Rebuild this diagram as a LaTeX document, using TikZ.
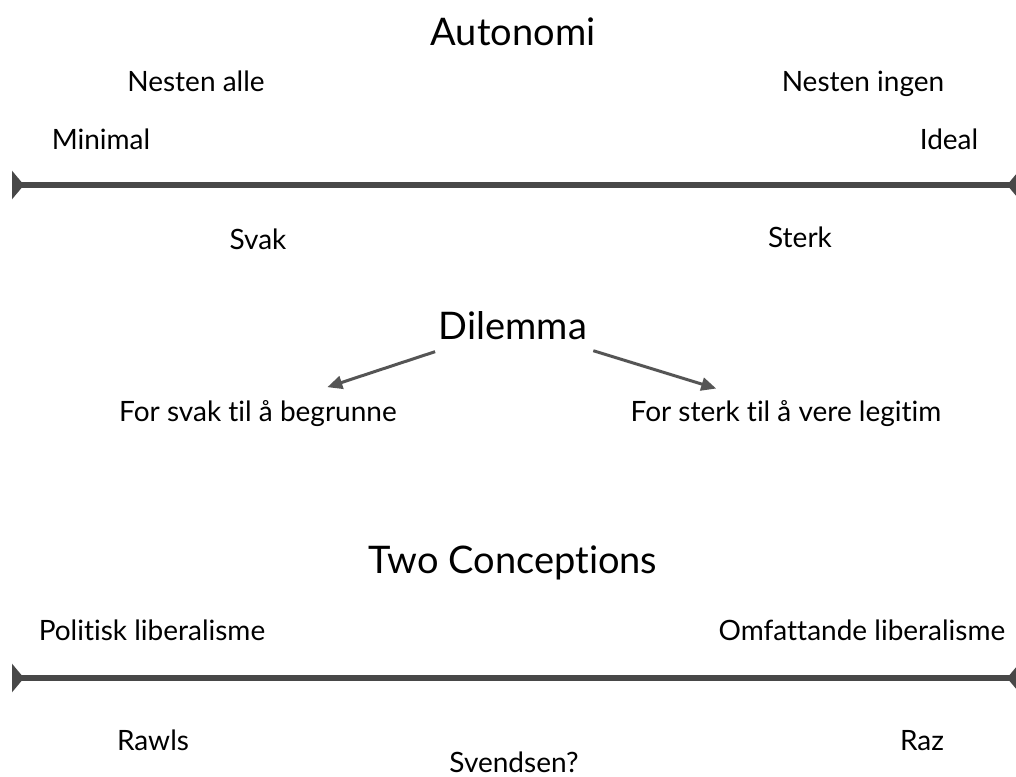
\documentclass[tikz,border=0pt]{standalone}
\usepackage{fontspec}
\setmainfont{Lato}[Ligatures=NoCommon]
\usetikzlibrary{arrows.meta}
\definecolor{linegray}{HTML}{484848}
\definecolor{arrgray}{HTML}{555555}
\tikzset{
  x=1pt,y=-1pt,
  title/.style={inner sep=0pt,font=\fontsize{38}{42}\selectfont},
  label/.style={inner sep=0pt,anchor=base,font=\fontsize{28}{32}\selectfont},
  scale line/.style={draw=linegray,line width=6pt,
    {Triangle[reversed,length=12pt,width=28pt]}-{Triangle[reversed,length=12pt,width=28pt]}},
  dilarrow/.style={draw=arrgray,line width=3pt,-{Triangle[length=15pt,width=13pt]}},
}
\begin{document}
\begin{tikzpicture}
\useasboundingbox (0,0) rectangle (1016,776);
\node[title] (autonomi) at (513,32) {Autonomi};
\node[label] (nalle) at (196,91) {Nesten alle};
\node[label] (ningen) at (863,91) {Nesten ingen};
\node[label] (minimal) at (101,149) {Minimal};
\node[label] (ideal) at (949,149) {Ideal};
\coordinate (l1a) at (12,185);
\coordinate (l1b) at (1019,185);
\draw[scale line] (l1a) -- (l1b);
\node[label] (svak) at (258,249) {Svak};
\node[label] (sterk) at (800,247) {Sterk};
\node[title] (dilemma) at (513,326) {Dilemma};
\node[label] (forsvak) at (258,421) {For svak til å begrunne};
\node[label] (forsterk) at (786,421) {For sterk til å vere legitim};
\draw[dilarrow,shorten <=82pt,shorten >=73pt] (dilemma.center) -- ([yshift=11pt]forsvak.base);
\draw[dilarrow,shorten <=84pt,shorten >=73pt] (dilemma.center) -- ([yshift=11pt]forsterk.base);
\node[title] (two) at (513,563) {Two Conceptions};
\node[label] (politisk) at (152,640) {Politisk liberalisme};
\node[label] (omfatt) at (862,640) {Omfattande liberalisme};
\coordinate (l2a) at (12,678);
\coordinate (l2b) at (1019,678);
\draw[scale line] (l2a) -- (l2b);
\node[label] (rawls) at (153,750) {Rawls};
\node[label] (raz) at (922,750) {Raz};
\node[label] (svendsen) at (514,772) {Svendsen?};
\end{tikzpicture}
\end{document}
